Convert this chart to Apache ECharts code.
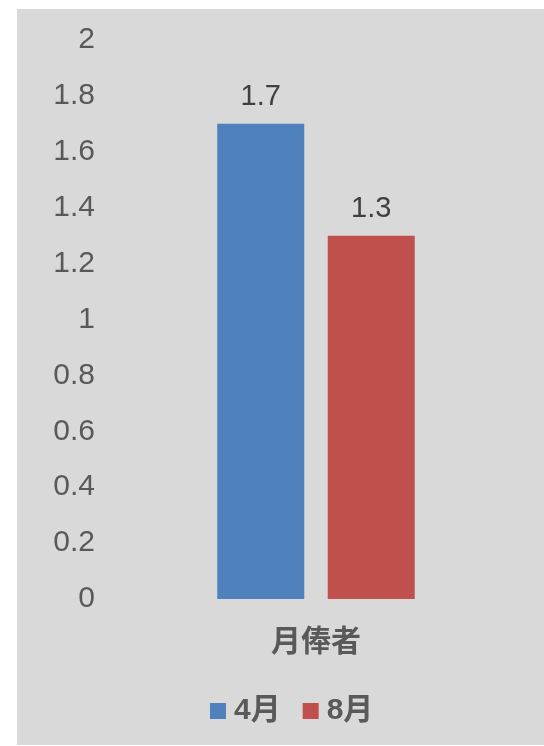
<!DOCTYPE html>
<html>
<head>
<meta charset="utf-8">
<script src="https://cdn.jsdelivr.net/npm/echarts@6/dist/echarts.min.js"></script>
<style>
  html, body { margin: 0; padding: 0; background: #fff; }
  #chart { width: 544px; height: 746px; }
</style>
</head>
<body>
<div id="chart"></div>
<script>
// data
var categories = ['月俸者'];
var seriesNames = ['4月', '8月'];
var aprValues = [1.7];
var augValues = [1.3];
var seriesColors = ['#4f81bd', '#c0504d'];

var font = '"Liberation Sans", Arial, "Noto Sans CJK SC", sans-serif';

var chart = echarts.init(document.getElementById('chart'));

chart.setOption({
  backgroundColor: '#ffffff',
  animation: false,
  graphic: [{
    type: 'rect',
    z: -10,
    shape: { x: 17, y: 9, width: 527, height: 736 },
    style: { fill: '#d9d9d9' }
  }],
  grid: { left: 110, right: 22, top: 40, bottom: 147, containLabel: false },
  legend: {
    data: seriesNames,
    left: 205,
    top: 691,
    itemWidth: 16,
    itemHeight: 16,
    itemGap: 22,
    icon: 'rect',
    textStyle: {
      fontFamily: font, fontSize: 30, fontWeight: 'bold', color: '#595959',
      padding: [0, 0, 0, 3]
    }
  },
  xAxis: {
    type: 'category',
    data: categories,
    axisLine: { show: false },
    axisTick: { show: false },
    axisLabel: {
      margin: 29,
      fontFamily: font, fontSize: 30, fontWeight: 'bold', color: '#595959'
    }
  },
  yAxis: {
    type: 'value',
    min: 0,
    max: 2,
    interval: 0.2,
    splitLine: { show: false },
    axisLine: { show: false },
    axisTick: { show: false },
    axisLabel: {
      margin: 15,
      padding: [4, 0, 0, 0],
      fontFamily: font, fontSize: 30, color: '#595959'
    }
  },
  series: [
    {
      name: seriesNames[0],
      type: 'bar',
      data: aprValues,
      barWidth: 87,
      barGap: '27%',
      itemStyle: { color: seriesColors[0] },
      label: {
        show: true, position: 'top', distance: 12,
        fontFamily: font, fontSize: 29, color: '#404040'
      }
    },
    {
      name: seriesNames[1],
      type: 'bar',
      data: augValues,
      barWidth: 87,
      itemStyle: { color: seriesColors[1] },
      label: {
        show: true, position: 'top', distance: 12,
        fontFamily: font, fontSize: 29, color: '#404040'
      }
    }
  ]
});
</script>
</body>
</html>
